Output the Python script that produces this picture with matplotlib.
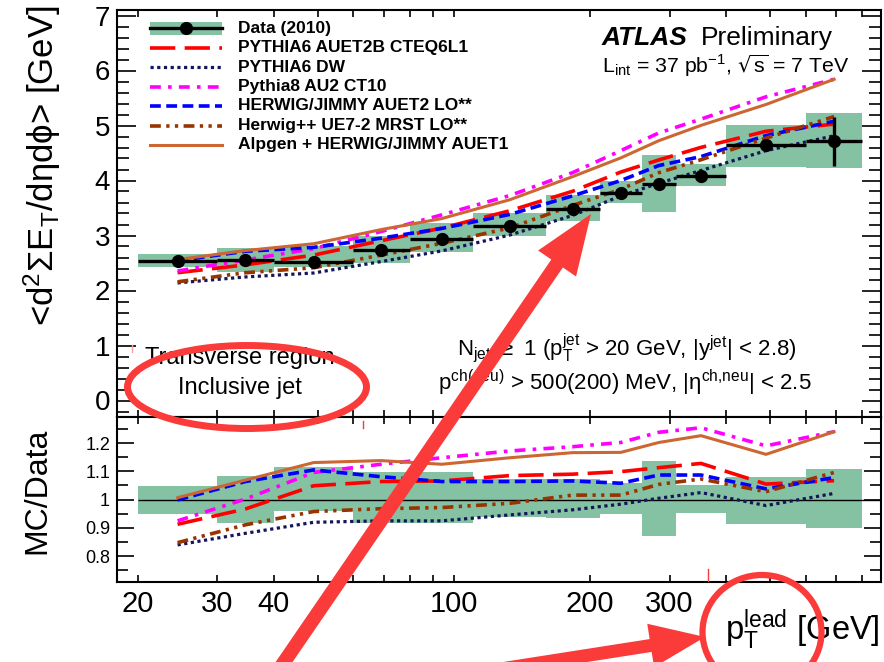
#!/usr/bin/env python3

import matplotlib

matplotlib.use("Agg")

import matplotlib.pyplot as plt
import matplotlib.transforms as mtransforms
from matplotlib.lines import Line2D
from matplotlib.patches import Ellipse, FancyArrow, Rectangle
from matplotlib.ticker import FixedLocator, FuncFormatter, MultipleLocator, NullLocator
import numpy as np


OUTPUT_PNG = "out.png"

FIG_W_PX = 884
FIG_H_PX = 662
DPI = 100

# leading-jet pT binning and bin centres (GeV)
BIN_EDGES = [20, 30, 40, 60, 80, 110, 160, 210, 260, 310, 400, 600, 800]
PT_CENTRES = [24.5, 34.6, 49, 69, 94, 133, 183, 234, 284, 352, 490, 693]

# measured <d2 sum ET / deta dphi> in the transverse region (GeV)
DATA_SUM_ET = [2.545, 2.55, 2.52, 2.73, 2.94, 3.18, 3.49, 3.78, 3.93, 4.08, 4.64, 4.71]
DATA_STAT = [0.01, 0.01, 0.01, 0.01, 0.02, 0.02, 0.03, 0.04, 0.05, 0.07, 0.09, 0.44]

# relative systematic band (up / down)
SYST_UP = [0.049, 0.084, 0.114, 0.096, 0.096, 0.072, 0.072, 0.058, 0.136, 0.052, 0.081, 0.108]
SYST_DOWN = [0.049, 0.084, 0.040, 0.081, 0.081, 0.062, 0.066, 0.052, 0.127, 0.046, 0.085, 0.101]

# MC / data ratios per bin
RATIO_AUET2B = [0.913, 0.967, 1.049, 1.064, 1.066, 1.085, 1.090, 1.099, 1.113, 1.128, 1.055, 1.067]
RATIO_DW = [0.840, 0.881, 0.920, 0.925, 0.925, 0.946, 0.964, 0.984, 1.005, 1.025, 0.979, 1.022]
RATIO_PYTHIA8 = [0.925, 1.002, 1.096, 1.125, 1.148, 1.172, 1.187, 1.202, 1.238, 1.254, 1.190, 1.240]
RATIO_HERWIG = [0.999, 1.064, 1.105, 1.081, 1.064, 1.064, 1.066, 1.058, 1.087, 1.087, 1.038, 1.078]
RATIO_HERWIGPP = [0.848, 0.911, 0.958, 0.968, 0.972, 0.987, 1.016, 1.016, 1.054, 1.073, 1.028, 1.096]
RATIO_ALPGEN = [1.007, 1.069, 1.131, 1.138, 1.125, 1.148, 1.166, 1.167, 1.202, 1.226, 1.160, 1.240]

DATA_LABEL = "Data (2010)"

MODELS = [
    {
        "label": "PYTHIA6 AUET2B CTEQ6L1",
        "ratio": RATIO_AUET2B,
        "color": "#ff0000",
        "lw": 2.6,
        "dashes": (7, 2.6),
    },
    {
        "label": "PYTHIA6 DW",
        "ratio": RATIO_DW,
        "color": "#15155a",
        "lw": 2.3,
        "dashes": (1, 1.1),
    },
    {
        "label": "Pythia8 AU2 CT10",
        "ratio": RATIO_PYTHIA8,
        "color": "#ff00ff",
        "lw": 2.6,
        "dashes": (3, 2, 1, 2),
    },
    {
        "label": "HERWIG/JIMMY AUET2 LO**",
        "ratio": RATIO_HERWIG,
        "color": "#0000ff",
        "lw": 2.6,
        "dashes": (3, 1.5),
    },
    {
        "label": "Herwig++ UE7-2 MRST LO**",
        "ratio": RATIO_HERWIGPP,
        "color": "#993300",
        "lw": 2.6,
        "dashes": (3, 1.5, 0.9, 1.5, 0.9, 1.5),
    },
    {
        "label": "Alpgen + HERWIG/JIMMY AUET1",
        "ratio": RATIO_ALPGEN,
        "color": "#cc6633",
        "lw": 2.2,
        "dashes": None,
    },
]

X_TICKS = [20, 30, 40, 50, 60, 70, 80, 90, 100, 200, 300, 400, 500, 600, 700, 800]
X_LABELLED = {20, 30, 40, 100, 200, 300}

BAND_COLOR = "#85c2a3"
MARK_RED = "#fb3a3a"

plt.rcParams["font.family"] = ["Liberation Sans", "DejaVu Sans"]
plt.rcParams["mathtext.default"] = "regular"


def pixel_transform(figure):
    # pixel coordinates with the origin in the top-left corner
    return (
        mtransforms.Affine2D()
        .scale(1 / FIG_W_PX, -1 / FIG_H_PX)
        .translate(0, 1)
        + figure.transFigure
    )


def axes_rect(left, top, right, bottom):
    return [
        left / FIG_W_PX,
        1 - bottom / FIG_H_PX,
        (right - left) / FIG_W_PX,
        (bottom - top) / FIG_H_PX,
    ]


def line_kwargs(model):
    kwargs = {
        "color": model["color"],
        "linewidth": model["lw"],
    }
    if model["dashes"] is not None:
        kwargs["linestyle"] = (0, model["dashes"])
    return kwargs


def style_axis(axis, y_major_len, y_minor_len):
    axis.set_xscale("log")
    axis.set_xlim(18, 880)
    axis.xaxis.set_major_locator(FixedLocator(X_TICKS))
    axis.xaxis.set_minor_locator(NullLocator())
    axis.tick_params(
        which="both",
        direction="in",
        top=True,
        right=True,
        width=1.2,
    )
    axis.tick_params(axis="x", which="major", length=5, pad=6)
    axis.tick_params(axis="y", which="major", length=y_major_len, pad=5)
    axis.tick_params(axis="y", which="minor", length=y_minor_len)
    for spine in axis.spines.values():
        spine.set_linewidth(1.5)


def draw_band(axis, centre_values, up, down):
    lows = np.array(centre_values) * (1 - np.array(down))
    highs = np.array(centre_values) * (1 + np.array(up))
    edges = np.array(BIN_EDGES, dtype=float)
    axis.bar(
        edges[:-1],
        highs - lows,
        width=np.diff(edges),
        bottom=lows,
        align="edge",
        color=BAND_COLOR,
        linewidth=0,
        zorder=1,
    )


def draw_main(axis):
    data = np.array(DATA_SUM_ET)
    centres = np.array(PT_CENTRES, dtype=float)
    edges = np.array(BIN_EDGES, dtype=float)

    draw_band(axis, data, SYST_UP, SYST_DOWN)

    for model in MODELS:
        axis.plot(
            centres,
            np.array(model["ratio"]) * data,
            zorder=3,
            **line_kwargs(model),
        )

    axis.errorbar(
        centres,
        data,
        xerr=[centres - edges[:-1], edges[1:] - centres],
        yerr=DATA_STAT,
        fmt="o",
        color="black",
        markersize=8.5,
        elinewidth=2.4,
        capsize=0,
        zorder=4,
    )

    axis.set_ylim(-0.3, 7.1)
    axis.yaxis.set_major_locator(MultipleLocator(1))
    axis.yaxis.set_minor_locator(MultipleLocator(0.2))
    axis.tick_params(axis="x", labelbottom=False)
    axis.tick_params(axis="y", labelsize=20)


def draw_ratio(axis):
    centres = np.array(PT_CENTRES, dtype=float)

    draw_band(axis, np.ones(len(centres)), SYST_UP, SYST_DOWN)
    axis.hlines(1.0, BIN_EDGES[0], 880, color="black", linewidth=1.0, zorder=2)

    for model in MODELS:
        axis.plot(
            centres,
            model["ratio"],
            zorder=3,
            **line_kwargs(model),
        )

    axis.set_ylim(0.709, 1.292)
    axis.yaxis.set_major_locator(FixedLocator([0.8, 0.9, 1.0, 1.1, 1.2]))
    axis.yaxis.set_minor_locator(MultipleLocator(0.05))
    axis.yaxis.set_major_formatter(FuncFormatter(lambda v, p: f"{v:g}"))
    axis.xaxis.set_major_formatter(
        FuncFormatter(lambda v, p: f"{v:g}" if round(v) in X_LABELLED else "")
    )
    axis.tick_params(axis="y", labelsize=13)
    axis.tick_params(axis="x", labelsize=21)


def draw_legend(figure, pix):
    rows = [28, 47.5, 67, 86.5, 106, 125.5, 145]
    x0, x1, x_text = 150, 222, 238

    figure.add_artist(
        Rectangle((x0, rows[0] - 6.5), x1 - x0, 13, transform=pix,
                  facecolor=BAND_COLOR, edgecolor="none")
    )
    figure.add_artist(
        Line2D([x0, x1], [rows[0], rows[0]], transform=pix,
               color="black", linewidth=2.4)
    )
    figure.add_artist(
        Line2D([(x0 + x1) / 2], [rows[0]], transform=pix, marker="o",
               markersize=8.5, color="black")
    )
    figure.text(x_text, rows[0], DATA_LABEL, transform=pix, fontsize=12.5,
                fontweight="bold", va="center")

    for row, model in zip(rows[1:], MODELS):
        figure.add_artist(
            Line2D([x0, x1], [row, row], transform=pix, **line_kwargs(model))
        )
        figure.text(x_text, row, model["label"], transform=pix, fontsize=12.5,
                    fontweight="bold", va="center")


def draw_labels(figure, pix):
    figure.text(
        42, 5,
        r"<d$^{2}\Sigma$E$_{T}$/d$\eta$d$\phi$> [GeV]",
        transform=pix, fontsize=25, rotation=90, ha="center", va="top",
    )
    figure.text(
        37, 491, "MC/Data",
        transform=pix, fontsize=23, rotation=90, ha="center", va="center",
    )
    figure.text(
        880, 630, r"p$_{T}^{lead}$ [GeV]",
        transform=pix, fontsize=23.5, ha="right", va="center",
    )

    figure.text(602, 38, "ATLAS", transform=pix, fontsize=19,
                fontweight="bold", fontstyle="italic", va="center")
    figure.text(701, 38, "Preliminary", transform=pix, fontsize=19,
                va="center")
    figure.text(602, 66,
                r"L$_{int}$ = 37 pb$^{-1}$, $\sqrt{s}$ = 7 TeV",
                transform=pix, fontsize=15.3, va="center")

    figure.text(
        457, 348,
        r"N$_{jet}$ $\geq$ 1 (p$_{T}^{jet}$ > 20 GeV, |y$^{jet}$| < 2.8)",
        transform=pix, fontsize=16, va="center",
    )
    figure.text(
        438, 383,
        r"p$^{ch(neu)}$ > 500(200) MeV, |$\eta^{ch{,}neu}$| < 2.5",
        transform=pix, fontsize=16, va="center",
    )
    figure.text(240, 358, "Transverse region", transform=pix, fontsize=17,
                ha="center", va="center")
    figure.text(240, 388, "Inclusive jet", transform=pix, fontsize=17,
                ha="center", va="center")


def draw_markup(figure, pix):
    figure.add_artist(
        Ellipse((247, 387), 239, 83, transform=pix, fill=False,
                edgecolor=MARK_RED, linewidth=5, zorder=10)
    )
    figure.add_artist(
        Ellipse((762, 632), 119, 114, transform=pix, fill=False,
                edgecolor=MARK_RED, linewidth=4.5, zorder=10)
    )
    for (x_tail, y_tail), (x_tip, y_tip), shaft, head_w, head_l in [
        ((280, 668), (591, 214), 14, 46, 60),
        ((494, 670), (705, 637), 13, 44, 55),
    ]:
        figure.add_artist(
            FancyArrow(
                x_tail, y_tail, x_tip - x_tail, y_tip - y_tail,
                width=shaft, head_width=head_w, head_length=head_l,
                length_includes_head=True, transform=pix,
                facecolor=MARK_RED, edgecolor="none", zorder=10,
            )
        )
    for x, y0, y1, colour in [
        (132, 345, 352, "#f4a0a0"),
        (363, 421, 428, MARK_RED),
        (708, 569, 581, MARK_RED),
    ]:
        figure.add_artist(
            Line2D([x, x], [y0, y1], transform=pix, color=colour,
                   linewidth=1, zorder=10)
        )


def main():
    figure = plt.figure(figsize=(FIG_W_PX / DPI, FIG_H_PX / DPI), dpi=DPI)
    pix = pixel_transform(figure)

    main_axis = figure.add_axes(axes_rect(117, 10, 881, 417))
    ratio_axis = figure.add_axes(axes_rect(117, 417, 881, 582))

    style_axis(main_axis, 14, 8.5)
    style_axis(ratio_axis, 12, 8)

    draw_main(main_axis)
    draw_ratio(ratio_axis)
    draw_legend(figure, pix)
    draw_labels(figure, pix)
    draw_markup(figure, pix)

    figure.savefig(OUTPUT_PNG, dpi=DPI)
    plt.close(figure)


if __name__ == "__main__":
    main()
